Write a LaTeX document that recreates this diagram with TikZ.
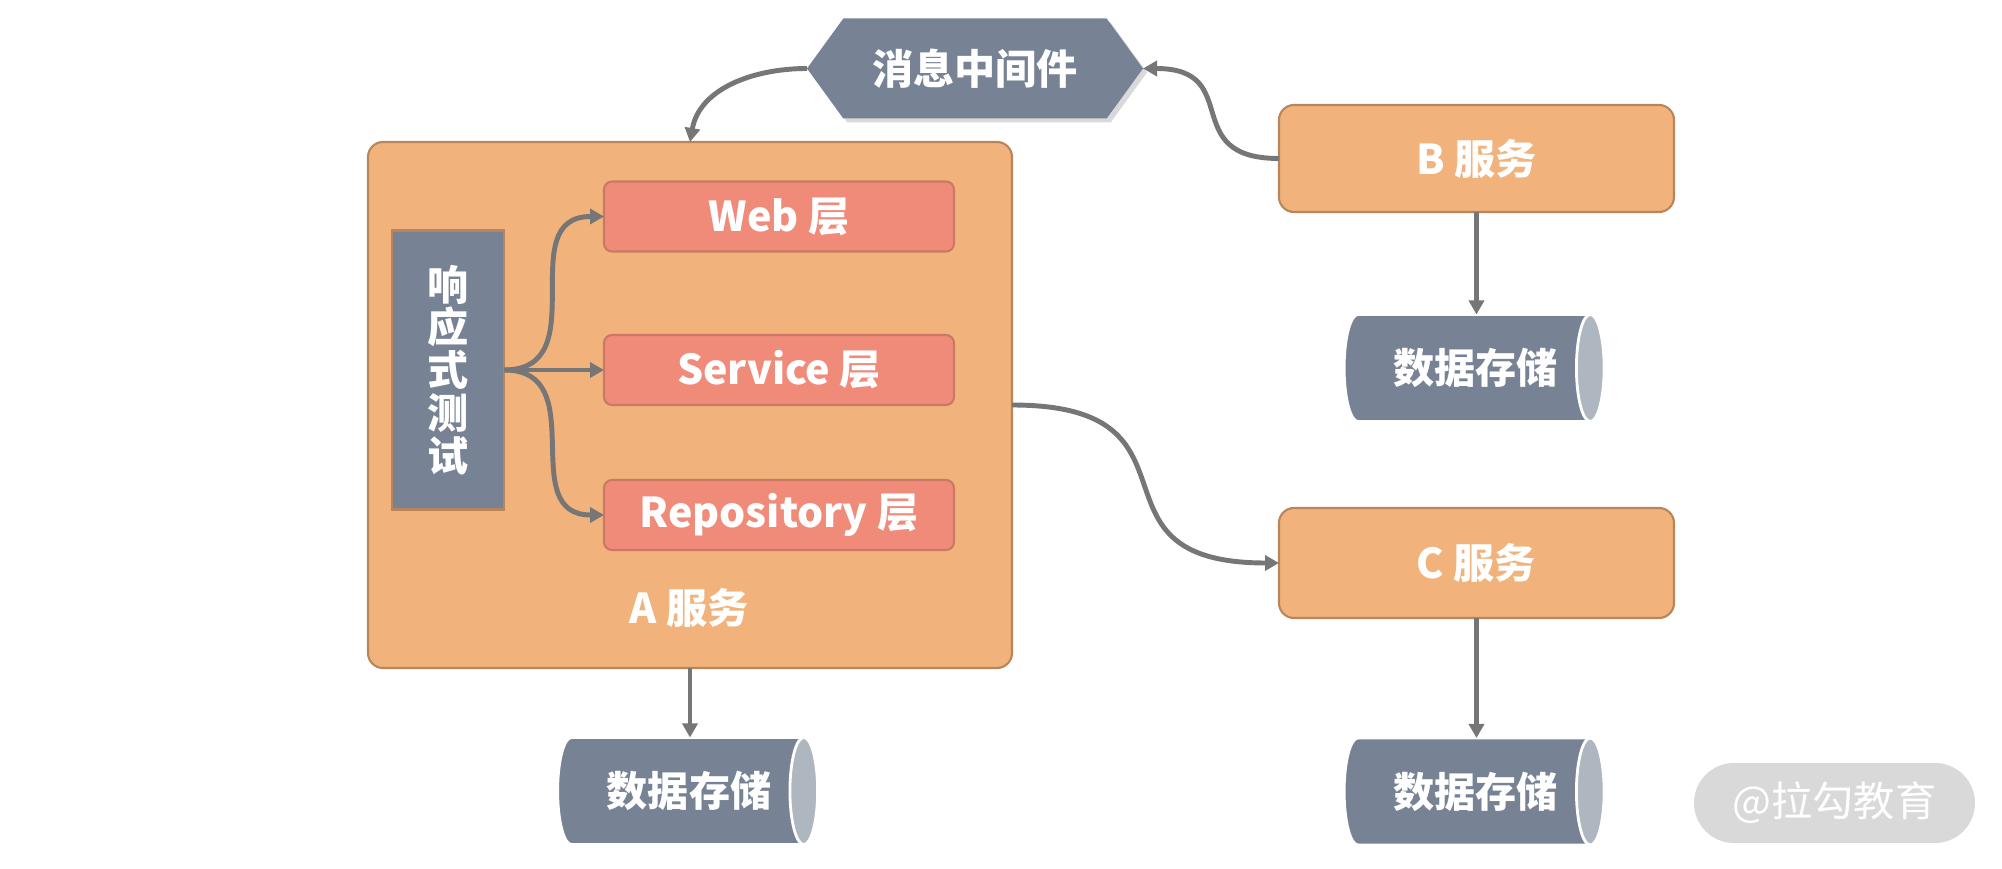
\documentclass[tikz,border=0pt]{standalone}
\usepackage{fontspec}
\setmainfont{Noto Sans CJK SC}
\usetikzlibrary{arrows.meta}
\usetikzlibrary{shapes.geometric,shapes.symbols,shadows}

\definecolor{svcfill}{HTML}{F1B27B}
\definecolor{svcline}{HTML}{B8865A}
\definecolor{layerfill}{HTML}{F08B7A}
\definecolor{layerline}{HTML}{C97A64}
\definecolor{slate}{HTML}{778395}
\definecolor{capgray}{HTML}{AEB6BF}
\definecolor{linegray}{HTML}{767676}
\definecolor{markgray}{HTML}{D9D9D9}

\begin{document}
\begin{tikzpicture}[>={Triangle[length=0.14cm,width=0.15cm]},
	txt/.style={text=white,font=\bfseries\fontsize{11.7}{14}\selectfont,inner sep=0pt,outer sep=0pt},
	svcbox/.style={txt,rectangle,rounded corners=0.15cm,fill=svcfill,draw=svcline,line width=0.6pt},
	layerbox/.style={txt,rectangle,rounded corners=0.08cm,fill=layerfill,draw=layerline,line width=0.6pt,minimum width=3.5cm,minimum height=0.7cm},
	dbnode/.style={txt,cylinder,shape border rotate=0,aspect=0.7,cylinder uses custom fill,cylinder body fill=slate,cylinder end fill=capgray,draw=white,line width=0.8pt,minimum height=2.6cm,minimum width=1.07cm,execute at begin node=\hspace{0.18cm}},
	conn/.style={->,draw=linegray,line width=1.4pt}]
	\useasboundingbox (0,0) rectangle (20.02,-8.69);
	
	\node[txt,signal,signal to=west and east,signal pointer angle=108,fill=slate,minimum width=3.36cm,minimum height=1.0cm,drop shadow={shadow xshift=0.04cm,shadow yshift=-0.04cm,opacity=0.3}] (mq) at (9.75,-0.685) {消息中间件};
	
	\node[svcbox,minimum width=6.44cm,minimum height=5.26cm] (asvc) at (6.90,-4.05) {};
	\node[txt] (alabel) at (6.89,-6.08) {A 服务};
	\node[txt,rectangle,fill=slate,draw=svcline,line width=0.6pt,minimum width=1.12cm,minimum height=2.79cm,align=center,font=\bfseries\fontsize{11.7}{12.2}\selectfont] (rtest) at (4.48,-3.70) {响\\应\\式\\测\\试};
	\node[layerbox] (web) at (7.79,-2.165) {Web 层};
	\node[layerbox] (svc) at (7.79,-3.70) {Service 层};
	\node[layerbox] (repo) at (7.79,-5.15) {Repository 层};
	
	\node[svcbox,minimum width=3.95cm,minimum height=1.07cm] (bsvc) at (14.765,-1.585) {B 服务};
	\node[svcbox,minimum width=3.95cm,minimum height=1.10cm] (csvc) at (14.765,-5.63) {C 服务};
	
	\node[dbnode] (dba) at (6.80,-7.91) {数据存储};
	\node[dbnode] (dbb) at (14.665,-3.68) {数据存储};
	\node[dbnode] (dbc) at (14.665,-7.915) {数据存储};
	
	\node[txt,font=\fontsize{11.7}{14}\selectfont,fill=markgray,rounded corners=0.4cm,minimum width=2.81cm,minimum height=0.8cm] (mark) at (18.345,-8.03) {@拉勾教育};
	
	\draw[conn] (mq.west) to[out=180,in=80] (asvc.north);
	\draw[conn] (bsvc.west) to[out=180,in=0,looseness=1.6] (mq.east);
	\draw[conn] (asvc.east) to[out=0,in=180,looseness=1.7] (csvc.west);
	\draw[conn] (rtest.east) to[out=0,in=180,looseness=1.3] (web.west);
	\draw[conn] (rtest.east) -- (svc.west);
	\draw[conn] (rtest.east) to[out=0,in=180,looseness=1.3] (repo.west);
	\draw[conn] (asvc.south) -- (asvc.south |- dba.north);
	\draw[conn] (bsvc.south) -- (bsvc.south |- dbb.north);
	\draw[conn] (csvc.south) -- (csvc.south |- dbc.north);
\end{tikzpicture}
\end{document}
